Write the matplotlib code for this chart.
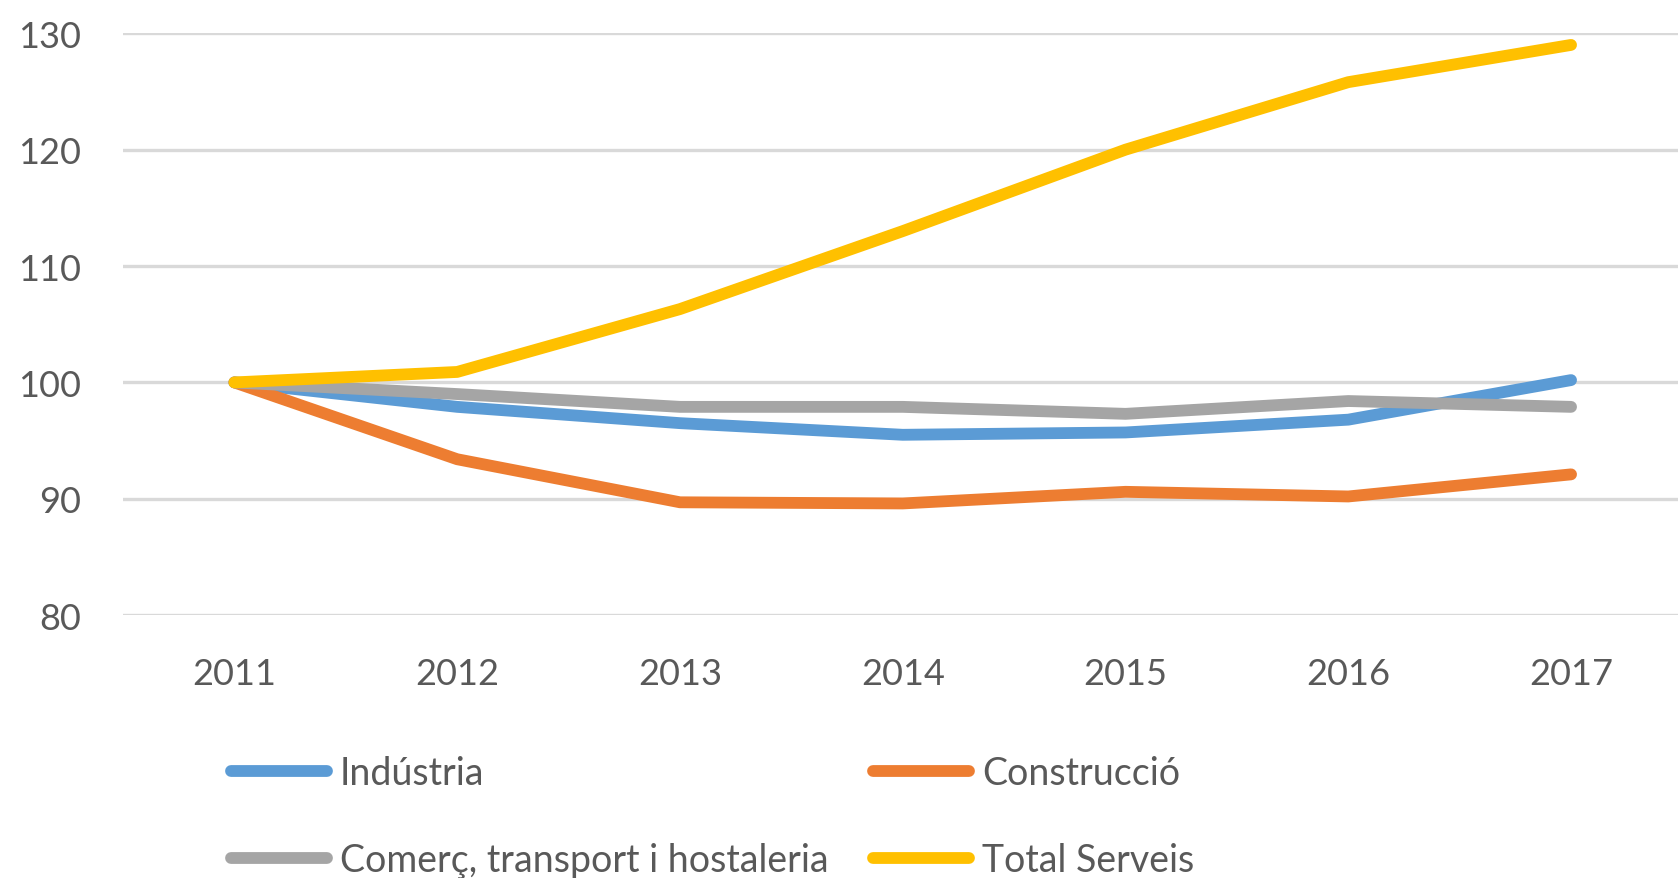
import matplotlib.pyplot as plt

plt.rcParams['font.family'] = ['Lato', 'DejaVu Sans']

anys = ['2011', '2012', '2013', '2014', '2015', '2016', '2017']
industria = [100, 97.9, 96.5, 95.5, 95.7, 96.8, 100.2]
construccio = [100, 93.4, 89.7, 89.6, 90.6, 90.2, 92.1]
comerc = [100, 99.0, 97.9, 97.9, 97.3, 98.4, 97.9]
serveis = [100, 100.9, 106.3, 113.0, 120.0, 125.8, 129.0]

noms = ['Indústria', 'Construcció', 'Comerç, transport i hostaleria', 'Total Serveis']
colors = ['#5B9BD5', '#ED7D31', '#A5A5A5', '#FFC000']
gris = '#595959'

fig = plt.figure(figsize=(16.78, 8.79), dpi=100)
ax = fig.add_axes([0.0733, 0.299, 0.9267, 0.662])

x = range(len(anys))
linies = []
for serie, nom, c in zip([industria, construccio, comerc, serveis], noms, colors):
    l, = ax.plot(x, serie, color=c, lw=8.5, solid_capstyle='round',
                 solid_joinstyle='round', label=nom)
    linies.append(l)

ax.set_ylim(80, 130)
ax.set_xlim(-0.5, 6.48)
ax.set_yticks([80, 90, 100, 110, 120, 130])
ax.set_xticks(list(x))
ax.set_xticklabels(anys)
ax.grid(axis='y', color='#D9D9D9', lw=2.4)
ax.set_axisbelow(True)
for s in ax.spines.values():
    s.set_visible(False)
ax.tick_params(axis='both', length=0, labelsize=26, colors=gris)
ax.tick_params(axis='x', pad=30)
ax.tick_params(axis='y', pad=30)

# ordre per columnes: Indústria/Comerç, Construcció/Total
ordre = [0, 2, 1, 3]
leg = fig.legend([linies[i] for i in ordre], [noms[i] for i in ordre],
                 ncol=2, frameon=False, fontsize=27, labelcolor=gris,
                 loc='lower left', bbox_to_anchor=(0.122, -0.03),
                 handlelength=2.55, handletextpad=0.35, columnspacing=1.2,
                 labelspacing=1.35, borderpad=0.2)

fig.savefig('out.png', dpi=100)
